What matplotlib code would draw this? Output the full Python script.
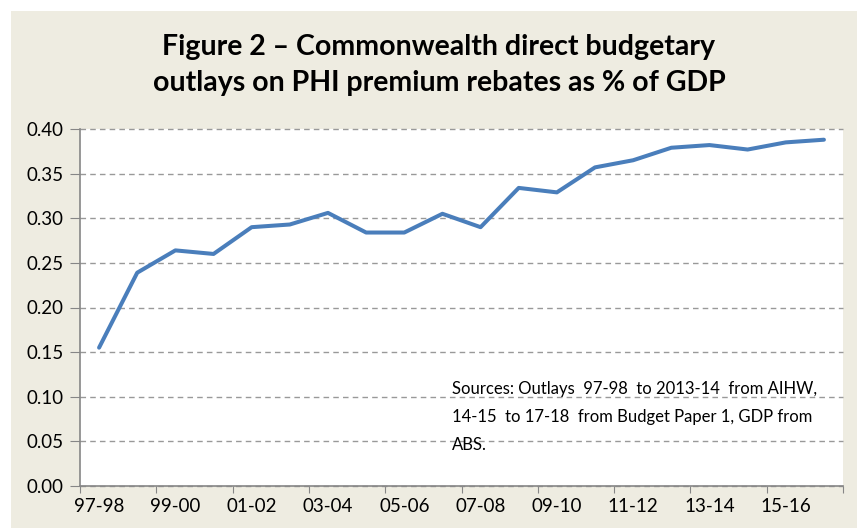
import matplotlib.pyplot as plt
from matplotlib.patches import Rectangle

# Financial years and outlays as % of GDP
years = ['97-98', '98-99', '99-00', '00-01', '01-02', '02-03', '03-04', '04-05',
         '05-06', '06-07', '07-08', '08-09', '09-10', '10-11', '11-12', '12-13',
         '13-14', '14-15', '15-16', '16-17']
pct_gdp = [0.155, 0.239, 0.264, 0.260, 0.290, 0.293, 0.306, 0.284,
           0.284, 0.305, 0.290, 0.334, 0.329, 0.357, 0.365, 0.379,
           0.382, 0.377, 0.385, 0.388]
yticks = [0.00, 0.05, 0.10, 0.15, 0.20, 0.25, 0.30, 0.35, 0.40]
source_lines = ['Sources: Outlays  97-98  to 2013-14  from AIHW,',
                '14-15  to 17-18  from Budget Paper 1, GDP from',
                'ABS.']

W, H = 857, 528
fig = plt.figure(figsize=(W / 100, H / 100), dpi=100, facecolor='white')
plt.rcParams['font.family'] = ['Lato', 'DejaVu Sans']

# beige chart area background
fig.patches.append(Rectangle((11 / W, 0), 1 - 11 / W, 1 - 11 / H,
                             transform=fig.transFigure, facecolor='#EEECE1',
                             edgecolor='none', zorder=-1))

ax = fig.add_axes([80 / W, 1 - 486 / H, (843 - 80) / W, (486 - 129) / H])
ax.set_facecolor('white')

x = list(range(len(years)))
ax.plot(x, pct_gdp, color='#4A7EBB', linewidth=2.9, solid_joinstyle='round',
        solid_capstyle='round', zorder=3)

ax.set_xlim(-0.5, len(years) - 0.5)
ax.set_ylim(0, 0.40)
ax.set_yticks(yticks)
ax.set_yticklabels(['%.2f' % v for v in yticks], fontsize=13.5)

# ticks between categories, labels on every other category
ax.set_xticks([i - 0.5 for i in range(0, len(years) + 1, 2)])
ax.set_xticklabels([])
ax.set_xticks(x[::2], minor=True)
ax.set_xticklabels(years[::2], minor=True, fontsize=13.5)
ax.tick_params(axis='x', which='minor', length=0, pad=9)
ax.tick_params(axis='x', which='major', length=5, color='#868686', direction='out')
ax.tick_params(axis='y', length=7, color='#868686', direction='out', pad=5)

ax.grid(axis='y', linestyle=(0, (4, 3)), color='#999999', linewidth=1)
for gl in ax.get_ygridlines():
    gl.set_clip_on(False)
ax.set_axisbelow(True)

for side in ['top', 'right']:
    ax.spines[side].set_visible(False)
for side in ['left', 'bottom']:
    ax.spines[side].set_color('#868686')
    ax.spines[side].set_linewidth(1.2)

fig.text(439 / W, 1 - 47 / H, 'Figure 2 \u2013 Commonwealth direct budgetary',
         ha='center', va='center', fontsize=20.5, fontweight='bold')
fig.text(439 / W, 1 - 83 / H, 'outlays on PHI premium rebates as % of GDP',
         ha='center', va='center', fontsize=20.5, fontweight='bold')

for i, line in enumerate(source_lines):
    fig.text(452 / W, 1 - (389 + 28 * i) / H, line,
             ha='left', va='center', fontsize=12)

fig.savefig('out.png', dpi=100, facecolor='white')
